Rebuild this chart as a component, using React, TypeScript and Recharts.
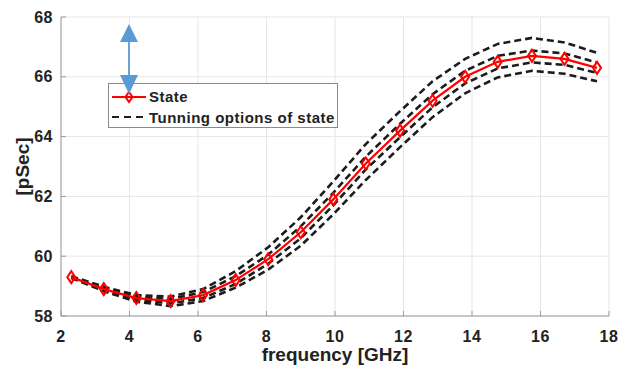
import { ComposedChart, Line, XAxis, YAxis, CartesianGrid, Legend } from "recharts"

// frequency points [GHz]
const freq = [2.3, 3.25, 4.2, 5.2, 6.15, 7.1, 8.05, 9.0, 9.95, 10.9, 11.9, 12.85, 13.8, 14.75, 15.75, 16.7, 17.65]
// state delay [pSec]
const stateDelay = [59.3, 58.9, 58.6, 58.5, 58.7, 59.2, 59.9, 60.8, 61.9, 63.1, 64.2, 65.2, 66.0, 66.5, 66.7, 66.6, 66.3]
// tuning options (dashed)
const tuneOuterHi = [59.33, 58.98, 58.7, 58.65, 58.9, 59.5, 60.3, 61.3, 62.5, 63.75, 64.85, 65.85, 66.6, 67.1, 67.3, 67.15, 66.8]
const tuneInnerHi = [59.31, 58.93, 58.65, 58.57, 58.8, 59.33, 60.05, 61.0, 62.12, 63.33, 64.43, 65.42, 66.2, 66.7, 66.88, 66.78, 66.48]
const tuneInnerLo = [59.29, 58.87, 58.55, 58.42, 58.6, 59.07, 59.75, 60.6, 61.7, 62.9, 63.98, 64.98, 65.78, 66.28, 66.48, 66.4, 66.13]
const tuneOuterLo = [59.27, 58.83, 58.48, 58.33, 58.5, 58.95, 59.55, 60.35, 61.4, 62.55, 63.65, 64.65, 65.45, 65.98, 66.2, 66.1, 65.85]

const xTicks = [2, 4, 6, 8, 10, 12, 14, 16, 18]
const yTicks = [58, 60, 62, 64, 66, 68]

const data = freq.map((f, i) => ({
  freq: f,
  state: stateDelay[i],
  outerHi: tuneOuterHi[i],
  innerHi: tuneInnerHi[i],
  innerLo: tuneInnerLo[i],
  outerLo: tuneOuterLo[i],
}))

const FONT = '"Liberation Sans", Arial, sans-serif'
const TEXT = "#222"
const AXIS = "#9a9a9a"
const RED = "#ff0000"
const DASH = "#1c1c1c"

const XTick = ({ x, y, payload }: any) => (
  <g>
    <line x1={x} x2={x} y1={y} y2={y - 5} stroke={AXIS} />
    <text x={x} y={y + 20} textAnchor="middle" dominantBaseline="central"
      fontFamily={FONT} fontWeight="bold" fontSize={16} letterSpacing={0.5} fill={TEXT}>{payload.value}</text>
  </g>
)

const YTick = ({ x, y, payload }: any) => (
  <g>
    <line x1={x} x2={x + 5} y1={y} y2={y} stroke={AXIS} />
    <text x={x - 8} y={y} textAnchor="end" dominantBaseline="central"
      fontFamily={FONT} fontWeight="bold" fontSize={16} letterSpacing={0.5} fill={TEXT}>{payload.value}</text>
  </g>
)

const Diamond = ({ cx, cy }: any) => (
  <path d={`M${cx},${cy - 6}L${cx + 4},${cy}L${cx},${cy + 6}L${cx - 4},${cy}Z`}
    fill="none" stroke={RED} strokeWidth={2} />
)

const XLabel = ({ viewBox }: any) => (
  <text x={viewBox.x + viewBox.width / 2} y={viewBox.y + 38} textAnchor="middle" dominantBaseline="central"
    fontFamily={FONT} fontWeight="bold" fontSize={19} fill={TEXT}>frequency [GHz]</text>
)

const YLabel = ({ viewBox }: any) => {
  const cy = viewBox.y + viewBox.height / 2
  return (
    <text x={22} y={cy} transform={`rotate(-90, 22, ${cy})`} textAnchor="middle" dominantBaseline="central"
      fontFamily={FONT} fontWeight="bold" fontSize={19} fill={TEXT}>[pSec]</text>
  )
}

const LegendBox = () => (
  <div style={{ width: 228, height: 43, border: "1px solid #8a8a8a", background: "#fff", boxSizing: "content-box",
    fontFamily: FONT, fontWeight: "bold", fontSize: 15, letterSpacing: 0.5, color: TEXT }}>
    <div style={{ display: "flex", alignItems: "center", height: 21, marginTop: 2 }}>
      <svg width={40} height={14} style={{ marginLeft: 3 }}>
        <line x1={0} x2={34} y1={7} y2={7} stroke={RED} strokeWidth={2} />
        <path d="M17,2L20.5,7L17,12L13.5,7Z" fill="none" stroke={RED} strokeWidth={2} />
      </svg>
      <span style={{ marginLeft: -3 }}>State</span>
    </div>
    <div style={{ display: "flex", alignItems: "center", height: 20 }}>
      <svg width={40} height={14} style={{ marginLeft: 3 }}>
        <line x1={0} x2={34} y1={7} y2={7} stroke={DASH} strokeWidth={2.2} strokeDasharray="7 5" />
      </svg>
      <span style={{ marginLeft: -3 }}>Tunning options of state</span>
    </div>
  </div>
)

export default function App() {
  return (
    <div style={{ position: "absolute", left: 0, top: 0, width: 619, height: 373, background: "#fff" }}>
      <ComposedChart width={619} height={373} data={data} margin={{ top: 17, right: 10, bottom: 0, left: 0 }}>
        <CartesianGrid stroke="#e6e6e6" />
        <XAxis type="number" dataKey="freq" domain={[2, 18]} ticks={xTicks} interval={0}
          tickLine={false} tickSize={0} tickMargin={0} height={57}
          axisLine={{ stroke: AXIS }} tick={<XTick />} label={<XLabel />} />
        <YAxis type="number" domain={[58, 68]} ticks={yTicks} interval={0} width={61}
          tickLine={false} tickSize={0} tickMargin={0}
          axisLine={{ stroke: AXIS }} tick={<YTick />} label={<YLabel />} />
        <Legend layout="vertical" align="center" verticalAlign="middle"
          wrapperStyle={{ left: 108, top: 83, width: 230, height: 45 }} content={<LegendBox />} />
        <Line type="linear" dataKey="outerHi" stroke={DASH} strokeWidth={2.6} strokeDasharray="7 4" dot={false} isAnimationActive={false} />
        <Line type="linear" dataKey="innerHi" stroke={DASH} strokeWidth={2.6} strokeDasharray="7 4" dot={false} isAnimationActive={false} />
        <Line type="linear" dataKey="innerLo" stroke={DASH} strokeWidth={2.6} strokeDasharray="7 4" dot={false} isAnimationActive={false} />
        <Line type="linear" dataKey="outerLo" stroke={DASH} strokeWidth={2.6} strokeDasharray="7 4" dot={false} isAnimationActive={false} />
        <Line type="linear" dataKey="state" stroke={RED} strokeWidth={2.2} dot={<Diamond />} isAnimationActive={false} />
      </ComposedChart>
      <svg width={619} height={373} style={{ position: "absolute", left: 0, top: 0, pointerEvents: "none" }}>
        <line x1={129} x2={129} y1={40} y2={77} stroke="#5b9bd5" strokeWidth={1.8} />
        <path d="M129,24L138,42L120,42Z" fill="#5b9bd5" />
        <path d="M129,94L138,75L120,75Z" fill="#5b9bd5" />
      </svg>
    </div>
  )
}
